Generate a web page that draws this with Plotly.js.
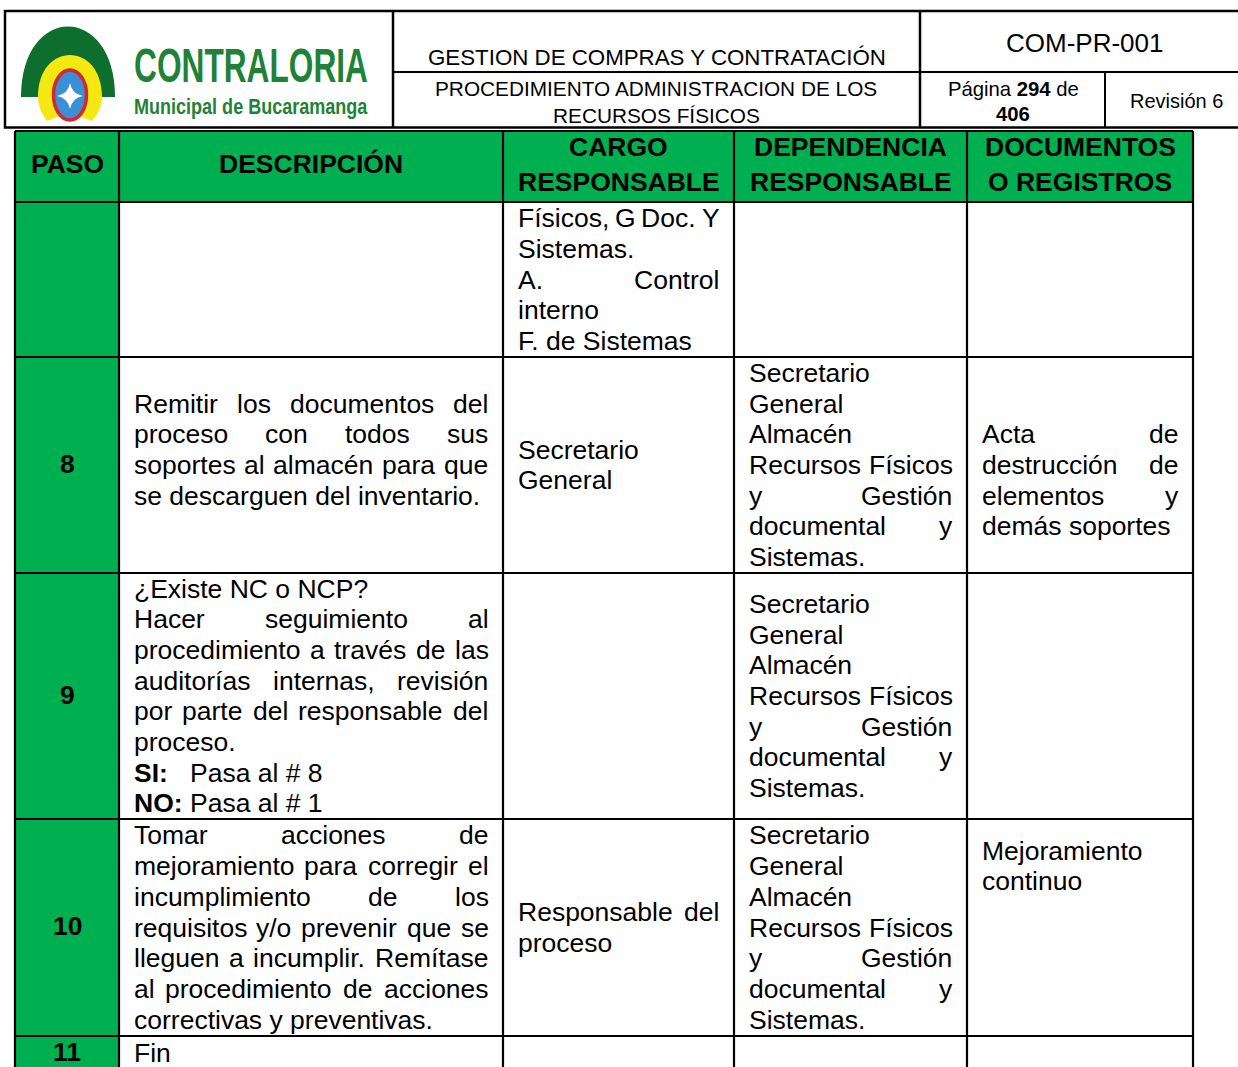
<!DOCTYPE html>
<html>
<head>
<meta charset="utf-8">
<script src="https://cdn.plot.ly/plotly-3.0.1.min.js"></script>
<style>html,body{margin:0;padding:0;background:#fff;}#chart{width:1238px;height:1067px;}</style>
</head>
<body>
<div id="chart"></div>
<script>
// ---------- DATA ----------
const logoTitle = 'CONTRALORIA';
const logoSubtitle = 'Municipal de Bucaramanga';
const processTitle = 'GESTION DE COMPRAS Y CONTRATACIÓN';
const procedureTitle = ['PROCEDIMIENTO ADMINISTRACION DE LOS', 'RECURSOS FÍSICOS'];
const docCode = 'COM-PR-001';
const pageInfo = ['Página <b>294</b> de', '<b>406</b>'];
const revision = 'Revisión 6';

const encabezados = [['PASO'], ['DESCRIPCIÓN'], ['CARGO', 'RESPONSABLE'], ['DEPENDENCIA', 'RESPONSABLE'], ['DOCUMENTOS', 'O REGISTROS']];
const pasos = ['', '8', '9', '10', '11'];

// each cell: list of paragraphs, each paragraph: list of lines (last line of paragraph not justified)
const descripcion = [
  [],
  [['Remitir los documentos del', 'proceso con todos sus', 'soportes al almacén para que', 'se descarguen del inventario.'], ['']],
  [['¿Existe NC o NCP?'], ['Hacer seguimiento al', 'procedimiento a través de las', 'auditorías internas, revisión', 'por parte del responsable del', 'proceso.'], ['<b>SI:</b>\tPasa al # 8'], ['<b>NO:</b>\tPasa al # 1']],
  [['Tomar acciones de', 'mejoramiento para corregir el', 'incumplimiento de los', 'requisitos y/o prevenir que se', 'lleguen a incumplir. Remítase', 'al procedimiento de acciones', 'correctivas y preventivas.']],
  [['Fin']]
];
const cargo = [
  [['Físicos, G Doc. Y', 'Sistemas.'], ['A. Control', 'interno'], ['F. de Sistemas']],
  [['Secretario', 'General']],
  [],
  [['Responsable del', 'proceso']],
  []
];
const dependencia = [
  [],
  [['Secretario'], ['General'], ['Almacén'], ['Recursos Físicos', 'y Gestión', 'documental y', 'Sistemas.']],
  [['Secretario'], ['General'], ['Almacén'], ['Recursos Físicos', 'y Gestión', 'documental y', 'Sistemas.']],
  [['Secretario'], ['General'], ['Almacén'], ['Recursos Físicos', 'y Gestión', 'documental y', 'Sistemas.']],
  []
];
const documentos = [
  [],
  [[''], ['Acta de', 'destrucción de', 'elementos y', 'demás soportes']],
  [],
  [['Mejoramiento', 'continuo'], [''], [''], [''], ['']],
  []
];

// ---------- LAYOUT GEOMETRY ----------
const W = 1238, H = 1067;
const colEdges = [15, 119, 503, 734, 967, 1193];
const tableTop = 131;
const headBottom = 202;
const rowEdges = [202, 357, 573, 819, 1036, 1070];
const lineGap = 30.7;
const pad = 14.5;
const BODY = 'Liberation Sans, Arial, sans-serif';
const FS = 26.5;
const GREEN = '#00B050';

const shapes = [];
const annotations = [];
const ctx = document.createElement('canvas').getContext('2d');
function measure(t, size, bold) {
  ctx.font = (bold ? 'bold ' : '') + size + 'px "Liberation Sans", Arial, sans-serif';
  return ctx.measureText(t.replace(/<[^>]+>/g, '')).width;
}
function addText(text, x, y, o) {
  o = o || {};
  annotations.push({
    x: x, y: y, xref: 'x', yref: 'y', text: text, showarrow: false,
    xanchor: o.anchor || 'left', yanchor: 'middle', borderpad: 0, borderwidth: 0,
    font: { family: o.family || BODY, size: o.size || FS, color: o.color || '#000', weight: o.weight || 'normal' }
  });
  return annotations.length - 1;
}
function addLine(line, xL, xR, y, justify) {
  if (!line) return;
  if (line.indexOf('\t') >= 0) {
    const parts = line.split('\t');
    addText(parts[0], xL, y);
    addText(parts[1], xL + 56, y);
    return;
  }
  const words = line.split(' ').filter(Boolean);
  if (!justify || words.length < 2) { addText(line, xL, y); return; }
  const ws = words.map(w => measure(w, FS, false));
  const total = ws.reduce((a, b) => a + b, 0);
  const gap = (xR - xL - total) / (words.length - 1);
  let x = xL;
  words.forEach((w, i) => { addText(w, x, y); x += ws[i] + gap; });
}
function addCell(paragraphs, col, row) {
  const lines = [];
  paragraphs.forEach(p => p.forEach((l, j) => lines.push({ t: l, j: j < p.length - 1 })));
  if (!lines.length) return;
  const xL = colEdges[col] + pad, xR = colEdges[col + 1] - pad;
  const yc = (rowEdges[row] + rowEdges[row + 1]) / 2;
  lines.forEach((l, i) => addLine(l.t, xL, xR, yc + (i - (lines.length - 1) / 2) * lineGap, l.j));
}
function rect(x0, y0, x1, y1, fill, lw, lc) {
  shapes.push({ type: 'rect', xref: 'x', yref: 'y', x0: x0, y0: y0, x1: x1, y1: y1, fillcolor: fill || 'rgba(0,0,0,0)', line: { width: lw || 0, color: lc || '#000' }, layer: 'above' });
}
function seg(x0, y0, x1, y1, lw) {
  shapes.push({ type: 'line', xref: 'x', yref: 'y', x0: x0, y0: y0, x1: x1, y1: y1, line: { width: lw || 2, color: '#000' }, layer: 'above' });
}
function path(d, fill, lw, lc) {
  shapes.push({ type: 'path', xref: 'x', yref: 'y', path: d, fillcolor: fill, line: { width: lw || 0, color: lc || fill }, layer: 'above' });
}

// ---------- HEADER BOX ----------
rect(5, 11, 1246, 127.5, null, 2.5);
seg(393, 11, 393, 127.5, 2.5);
seg(920, 11, 920, 127.5, 2.5);
seg(393, 72, 1246, 72, 2);
seg(1105, 72, 1105, 127.5, 2);

// logo
path('M21,97 C21,3 115,3 115,97 Z', '#0d6e2e');
path('M38,97 C38,41 102,41 102,97 C102,108 97,115 92,121 L70,112 L47,121 C43,115 38,108 38,97 Z', '#f4e812');
shapes.push({ type: 'circle', xref: 'x', yref: 'y', x0: 53.5, x1: 86.5, y0: 70, y1: 120, fillcolor: '#3a8fd6', line: { width: 3.5, color: '#d7262e' }, layer: 'above' });
path('M70,83 Q72,94 83,96 Q72,98 70,109 Q68,98 57,96 Q68,94 70,83 Z', '#ffffff');
const logoIdx1 = addText('<b>' + logoTitle + '</b>', 134, 65.5, { size: 47.5, color: '#1f8236' });
const logoIdx2 = addText('<b>' + logoSubtitle + '</b>', 134, 106.5, { size: 22, color: '#1f8236' });

addText(processTitle, 657, 57, { anchor: 'center', size: 22.3 });
addText(procedureTitle[0], 656, 88, { anchor: 'center', size: 20.8 });
addText(procedureTitle[1], 656, 115, { anchor: 'center', size: 20.8 });
addText(docCode, 1084, 43, { anchor: 'center', size: 26 });
addText(pageInfo[0], 1013, 89, { anchor: 'center', size: 20.3 });
addText(pageInfo[1], 1013, 114, { anchor: 'center', size: 20.3 });
addText(revision, 1176, 101, { anchor: 'center', size: 20 });

// ---------- TABLE ----------
rect(colEdges[0], tableTop, colEdges[5], headBottom, GREEN);
rect(colEdges[0], headBottom, colEdges[1], rowEdges[rowEdges.length - 1], GREEN);
[tableTop].concat(rowEdges.slice(0, -1)).forEach(y => seg(colEdges[0], y, colEdges[5], y, 2.2));
colEdges.forEach(x => seg(x, tableTop, x, rowEdges[rowEdges.length - 1], 2.2));

encabezados.forEach((h, c) => {
  const xc = (colEdges[c] + colEdges[c + 1]) / 2;
  const yc = (tableTop + headBottom) / 2 - 2.5;
  h.forEach((t, i) => addText('<b>' + t + '</b>', xc, yc + (i - (h.length - 1) / 2) * 35, { anchor: 'center' }));
});
pasos.forEach((p, r) => {
  if (p) addText('<b>' + p + '</b>', (colEdges[0] + colEdges[1]) / 2, (rowEdges[r] + rowEdges[r + 1]) / 2 - 1.5, { anchor: 'center' });
});
[descripcion, cargo, dependencia, documentos].forEach((colData, k) => {
  colData.forEach((cell, r) => addCell(cell, k + 1, r));
});

const layout = {
  width: W, height: H,
  margin: { l: 0, r: 0, t: 0, b: 0, pad: 0 },
  paper_bgcolor: '#fff', plot_bgcolor: '#fff',
  showlegend: false,
  xaxis: { range: [0, W], visible: false, fixedrange: true },
  yaxis: { range: [H, 0], visible: false, fixedrange: true },
  shapes: shapes,
  annotations: annotations
};
Plotly.newPlot('chart', [{ type: 'scatter', x: [], y: [], mode: 'markers' }], layout, { staticPlot: true, displayModeBar: false }).then(gd => {
  [[logoIdx1, 234], [logoIdx2, 234]].forEach(([i, target]) => {
    const t = gd.querySelector('g.annotation[data-index="' + i + '"] text');
    if (!t) return;
    const bb = t.getBBox();
    const sx = target / bb.width;
    t.setAttribute('transform', 'translate(' + bb.x + ',0) scale(' + sx + ',1) translate(' + (-bb.x) + ',0)');
  });
});
</script>
</body>
</html>
